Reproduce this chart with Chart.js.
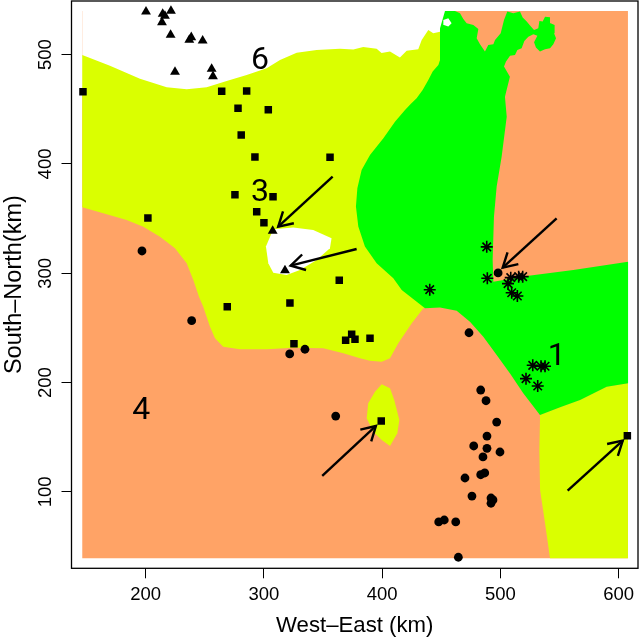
<!DOCTYPE html>
<html><head><meta charset="utf-8">
<style>html,body{margin:0;padding:0;background:#fff}canvas{display:block}</style>
<script src="https://cdn.jsdelivr.net/npm/chart.js@4/dist/chart.umd.min.js"></script>
</head><body><canvas id="c" width="640" height="638"></canvas>
<script>
const xTickValues=[200,300,400,500,600];
const yTickValues=[100,200,300,400,500];
const triangles=[[200.3,539.3],[221.4,540],[214.4,537.2],[216.3,535.4],[213.8,529.6],[221.1,518],[238.6,515.9],[236.9,513.4],[248.2,512.8],[224.8,484.2],[255.8,486.9],[256.9,480.2],[307.4,338.7],[317.8,302.7]];
const squares=[[147,466.1],[264.3,466.5],[285.4,466.8],[278.1,451],[303.7,449.7],[280.8,426.5],[292.4,406.4],[355.9,406.1],[275.5,371.9],[307.7,370.1],[293.9,356.4],[300,346.3],[201.9,350.6],[363.7,293.6],[269,269.4],[322,272.8],[325.4,235.6],[374.2,244.2],[369.1,238.7],[377,239.6],[389.7,240.5],[399.2,164.9],[607.3,151.4]];
const circles=[[196.9,320.4],[498,300.3],[238.9,256.6],[321.8,226.2],[334.7,230.5],[360.7,169.4],[473.4,245.6],[483.3,193.2],[487.8,183.4],[496.8,163.9],[488.6,151.1],[477.4,142],[488.6,139.9],[499.6,136.5],[485.2,132],[486.7,117.3],[483.3,115.7],[470,112.7],[475.9,96.2],[492,94.4],[493.7,92.6],[492,89.6],[447.8,72.5],[452.5,74.3],[462.2,72.5],[464.4,40.2]];
const asterisks=[[488.4,324.2],[488.9,295.4],[440.2,285],[508.7,296],[515.4,296.9],[518.8,296.9],[506.4,290.5],[509.5,282.2],[514.3,279.2],[527.3,215.8],[534.3,214.9],[537.7,214.9],[521.6,203.6],[531.5,196.9]];
const orangeField=[[146.4,39.3],[607.8,39.3],[607.8,540],[146.4,540]];
const whiteTop=[[146.4,540],[455,540],[455,465],[146.4,465]];
const yellowMain=[[146.4,499.7],[169.8,489.9],[195.2,478],[217.8,470.2],[234.7,468.3],[251.6,470.2],[268.5,475.9],[285.4,481.4],[302.3,487.6],[313.6,495.2],[327.7,501.8],[344.6,504.3],[364.3,505.5],[375.6,504.8],[384,507],[395.3,505.5],[399.5,501.5],[406.6,503],[415,497.5],[420.7,503.5],[430.5,505],[433.4,513.5],[439,522.6],[443.2,519.6],[448.9,521],[457.3,458.6],[457.3,275.4],[434.8,268],[425,254.3],[413.6,236],[406.6,222.2],[399.6,219.1],[389.7,220],[381.2,222.2],[367.1,226.8],[350.2,231.4],[324.8,231.9],[302.3,230.5],[279.7,230.5],[265.6,232.9],[258.6,240.5],[254.4,251.1],[248.7,269.4],[245.1,278.6],[240.3,293.9],[234.7,309.1],[224.8,322.9],[212.1,333.5],[198,342.6],[183.9,348.8],[164.1,354.9],[146.4,360.4]];
const yellowSouthEast=[[533.5,170.4],[550.4,177.4],[567.3,184.1],[589.9,196.3],[607.8,199.4],[607.8,39.3],[541.9,39.3],[537.7,71.3],[533.5,101.8],[532.9,138.4]];
const yellowIsland=[[399.6,198.4],[406.6,194.8],[410.2,184.1],[414.5,165.8],[412.8,153.6],[406.6,142],[399.6,147.5],[392.5,155.1],[386.9,167.3],[388.2,181.1],[393.9,191.7]];
const whiteHole=[[307.9,340.2],[324.8,341.8],[341.7,339.6],[357.2,332],[355.8,322.9],[344.6,312.2],[330.5,303],[319.2,298.5],[307.9,300.6],[303.7,309.1],[301.7,324.4]];
const whiteNotch=[[451.7,531.8],[455.9,533.3],[458.7,528.7],[455.9,525.7],[452.2,527.2]];
const greenMain=[[453.1,540],[451.7,534.8],[448.9,524.2],[448.9,512],[448.9,495.2],[447.5,490.6],[442.7,484.5],[439,476.9],[434.2,467.7],[429.1,460.1],[424.1,454.9],[419.3,449.4],[410.8,438.7],[401,423.5],[389.7,408.2],[382.6,394.5],[379,377.7],[377.8,361],[379.8,342.7],[385.4,324.4],[395.3,309.1],[409.4,295.4],[416.5,284.7],[436.2,267.9],[448.9,268.8],[463,265.8],[474.2,255.7],[485.5,242],[496.8,225.2],[508.1,208.4],[519.3,190.2],[533.4,170.3],[550.4,177.4],[567.3,184.1],[589.8,196.3],[607.9,199.3],[607.9,310.6],[561.6,303],[522.2,297.5],[494,292.3],[493.4,312.2],[494.5,351.8],[496.8,379.3],[501,406.7],[505.3,443.3],[503.8,461.6],[508,479.9],[503,489.1],[504.7,493.7],[508.1,499.1],[512.3,499.8],[514.3,504.3],[517.9,505.9],[520.2,512.6],[523.6,516.5],[527.8,518.7],[531.2,517.4],[528.4,511.3],[530,506.5],[533.4,502.8],[537.7,504.9],[541.9,505.9],[544.7,509.5],[547,515],[545.3,519.6],[545.8,527.2],[542.4,528.7],[541.9,534.2],[537.7,534.8],[535.7,530.3],[532.9,530.9],[532,524.2],[528.4,522.6],[525,526.6],[522.2,530.3],[518.8,533.9],[516.5,539.4],[510.9,537.9],[505.8,539.4],[503,531.8],[500.2,519.6],[495.4,513.5],[494,509.5],[489.7,508.9],[486.9,502.8],[482.7,509.5],[479.9,515],[481.3,523.5],[477.1,527.2],[471.4,528.7],[468.6,532.7],[465.8,537.9],[461.5,540]];
const arrows=[[[358.1,388.4],[312.1,342.6]],[[378.4,322.2],[322.6,307]],[[547.5,350.3],[501.9,305.2]],[[349.3,114.6],[394.7,160.3]],[[556.8,101.1],[603.4,146.9]]];
const clusterLabels=[["6",296.7,495.1],["3",296.7,374.4],["4",196.3,175],["1",547.6,224.6]];

const COL={orange:'#FFA366',yellow:'#DAFF00',green:'#00FF00',white:'#FFFFFF'};
const FONT='"Liberation Sans",Arial,sans-serif';
const xy=a=>a.map(p=>({x:p[0],y:p[1]}));
const poly=(pts,c,order)=>({data:xy(pts.concat([pts[0]])),showLine:true,fill:'shape',backgroundColor:c,borderWidth:0,borderColor:c,pointRadius:0,order});
const pts=(d,style,r,bw)=>({data:xy(d),pointStyle:style,pointRadius:r,pointBackgroundColor:'#000',pointBorderColor:'#000',pointBorderWidth:bw,showLine:false,order:1});

const decor={id:'decor',
 afterDatasetsDraw(ch){
  const c=ch.ctx,X=ch.scales.x,Y=ch.scales.y;
  c.save();
  c.strokeStyle='#000';c.lineWidth=2.4;c.lineCap='butt';
  arrows.forEach(a=>{
    const x0=X.getPixelForValue(a[0][0]),y0=Y.getPixelForValue(a[0][1]);
    const x1=X.getPixelForValue(a[1][0]),y1=Y.getPixelForValue(a[1][1]);
    const t=Math.atan2(y1-y0,x1-x0),L=16,w=Math.PI/6;
    c.beginPath();
    c.moveTo(x1-L*Math.cos(t-w),y1-L*Math.sin(t-w));
    c.lineTo(x1,y1);
    c.lineTo(x1-L*Math.cos(t+w),y1-L*Math.sin(t+w));
    c.stroke();
  });
  c.fillStyle='#000';c.font='32px Roboto,'+FONT;c.textAlign='center';c.textBaseline='middle';
  clusterLabels.forEach(l=>c.fillText(l[0],X.getPixelForValue(l[1]),Y.getPixelForValue(l[2])+1));
  c.restore();
 },
 afterDraw(ch){
  const c=ch.ctx,a=ch.chartArea;
  c.save();c.strokeStyle='#000';c.lineWidth=1.3;
  c.strokeRect(a.left,a.top,a.right-a.left,a.bottom-a.top);
  c.restore();
 }};

const datasets=[
 poly(orangeField,COL.orange,100),
 poly(whiteTop,COL.white,99),
 poly(yellowMain,COL.yellow,98),
 poly(yellowSouthEast,COL.yellow,97),
 poly(yellowIsland,COL.yellow,96),
 poly(whiteHole,COL.white,95),
 poly(greenMain,COL.green,94),
 poly(whiteNotch,COL.white,93),
 ...arrows.map(a=>({data:xy(a),showLine:true,fill:false,borderColor:'#000',borderWidth:2.4,pointRadius:0,order:5})),
 pts(circles,'circle',4.4,0),
 pts(squares,'rect',5.3,0),
 pts(triangles,'triangle',5.7,0),
 pts(asterisks,'star',6,1.6)
];

new Chart(document.getElementById('c'),{
 type:'scatter',
 data:{datasets},
 options:{
  responsive:false,animation:false,
  layout:{autoPadding:false,padding:{left:0,right:2,top:1,bottom:0}},
  plugins:{legend:{display:false},tooltip:{enabled:false}},
  scales:{
   x:{type:'linear',min:137.3,max:616.3,
    afterBuildTicks(s){s.ticks=xTickValues.map(v=>({value:v}));},
    afterFit(s){s.height=69.7;s.paddingLeft=0;s.paddingRight=0;},
    grid:{drawOnChartArea:false,drawTicks:true,tickLength:10,color:'#000',lineWidth:1},
    border:{display:false},
    ticks:{color:'#000',font:{size:18.5,family:FONT},padding:6,maxRotation:0,autoSkip:false},
    title:{display:true,text:'West–East (km)',color:'#000',font:{size:22.2,family:FONT,lineHeight:1.1},padding:0}},
   y:{type:'linear',min:30.1,max:549.1,
    afterBuildTicks(s){s.ticks=yTickValues.map(v=>({value:v}));},
    afterFit(s){s.width=71.5;s.paddingTop=0;s.paddingBottom=0;},
    grid:{drawOnChartArea:false,drawTicks:true,tickLength:10,color:'#000',lineWidth:1},
    border:{display:false},
    ticks:{color:'#000',font:{size:18.5,family:FONT},padding:0,minRotation:90,maxRotation:90,crossAlign:'center',autoSkip:false},
    title:{display:true,text:'South–North(km)',color:'#000',font:{size:23.5,family:FONT},padding:0}}
  }
 },
 plugins:[decor]
});
</script></body></html>
